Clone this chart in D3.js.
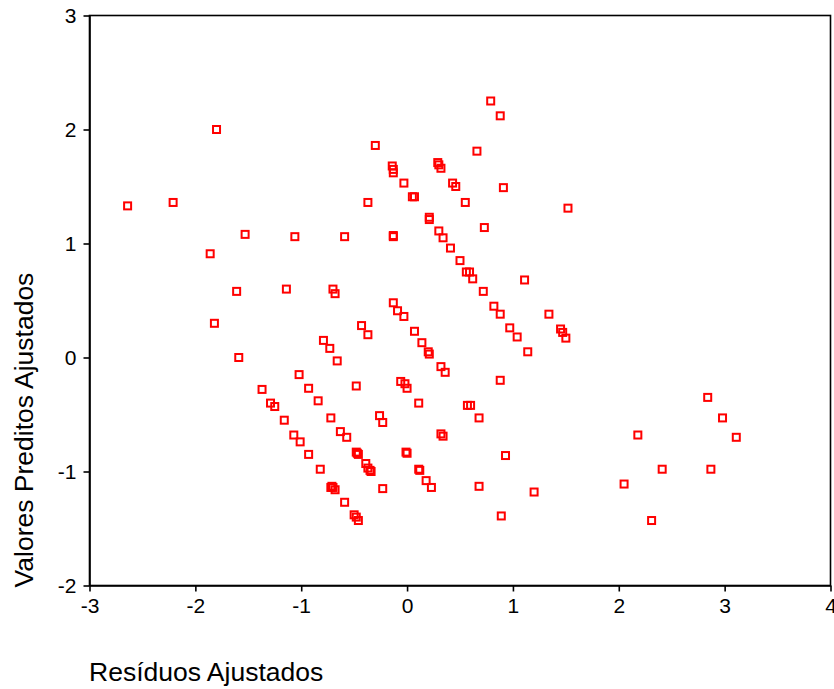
<!DOCTYPE html>
<html>
<head>
<meta charset="utf-8">
<script src="https://cdn.jsdelivr.net/npm/d3@7"></script>
<style>
  body { margin: 0; background: #fff; }
  text { font-family: "Liberation Sans", Arial, sans-serif; }
</style>
</head>
<body>
<script>
// residuos ajustados (x) vs valores preditos ajustados (y)
const resX = [
  -2.64, -2.21, -1.80, -1.53, -1.06, -1.86, -1.61, -1.14, -0.70, -0.68,
  -1.82, -0.79, -0.73, -0.66, -1.59, -1.02, -0.93, -1.37, -1.29, -1.25,
  -0.84, -0.72, -1.16, -1.07, -1.01, -0.93, -0.82, -0.72, -0.70, -0.68,
  -0.71, -0.63, -0.57, -0.59, -0.50, -0.48, -0.46, -0.48, -0.46, -0.47,
  -0.39, -0.37, -0.35, -0.34, -0.23, -0.26, -0.23, -0.48, -0.43, -0.37,
  -0.13, -0.09, -0.03, 0.07, 0.14, 0.20, 0.21, -0.06, -0.02, 0.00,
  0.11, -0.01, 0.00, 0.11, 0.12, 0.18, 0.23, 0.32, 0.36, 0.32,
  0.34, 0.57, 0.60, 0.68, 0.88, 0.93, 0.68, 0.89, 1.20,
  0.79, 0.88, -0.30, 0.66, -0.14, -0.13, -0.13, 0.29, 0.30, 0.32,
  -0.03, 0.43, 0.46, 0.91, 0.05, 0.07, -0.37, 0.55, 1.52, 0.21,
  0.21, 0.73, -0.59, -0.13, -0.13, 0.30, 0.34, 0.41, 0.50, 0.56,
  0.59, 0.62, 1.11, 0.72, 0.82, 0.88, 0.97, 1.04, 1.34, 1.45,
  1.47, 1.50, 1.14,
  2.84, 2.98, 2.18, 3.11, 2.41, 2.87, 2.05, 2.31
];
const predY = [
  1.33, 1.36, 2.00, 1.08, 1.06, 0.91, 0.58, 0.60, 0.60, 0.56,
  0.30, 0.15, 0.08, -0.03, 0.00, -0.15, -0.27, -0.28, -0.40, -0.43,
  -0.38, -0.53, -0.55, -0.68, -0.74, -0.85, -0.98, -1.14, -1.14, -1.16,
  -1.13, -0.65, -0.70, -1.27, -1.38, -1.40, -1.43, -0.83, -0.85, -0.84,
  -0.93, -0.97, -0.99, -1.00, -1.15, -0.51, -0.57, -0.25, 0.28, 0.20,
  0.48, 0.41, 0.36, 0.23, 0.13, 0.05, 0.03, -0.21, -0.23, -0.27,
  -0.40, -0.83, -0.84, -0.98, -0.99, -1.08, -1.14, -0.08, -0.13, -0.67,
  -0.69, -0.42, -0.42, -0.53, -0.20, -0.86, -1.13, -1.39, -1.18,
  2.25, 2.12, 1.86, 1.81, 1.68, 1.65, 1.62, 1.71, 1.69, 1.66,
  1.53, 1.53, 1.50, 1.49, 1.41, 1.41, 1.36, 1.36, 1.31, 1.23,
  1.21, 1.14, 1.06, 1.07, 1.06, 1.11, 1.05, 0.96, 0.85, 0.75,
  0.75, 0.69, 0.68, 0.58, 0.45, 0.38, 0.26, 0.18, 0.38, 0.25,
  0.22, 0.17, 0.05,
  -0.35, -0.53, -0.68, -0.70, -0.98, -0.98, -1.11, -1.43
];
const xTicks = [-3, -2, -1, 0, 1, 2, 3, 4];
const yTicks = [-2, -1, 0, 1, 2, 3];

const w = 834, h = 689;
const plotLeft = 89.5, plotRight = 830.5, plotTop = 15.5, plotBottom = 585.5;

const svg = d3.select("body").append("svg")
  .attr("width", w)
  .attr("height", h);

const x = d3.scaleLinear().domain([-3, 4]).range([plotLeft, plotRight]);
const y = d3.scaleLinear().domain([-2, 3]).range([plotBottom, plotTop]);

// box round the plot
svg.append("rect")
  .attr("x", plotLeft).attr("y", plotTop)
  .attr("width", plotRight - plotLeft).attr("height", plotBottom - plotTop)
  .attr("fill", "none")
  .attr("stroke", "#000")
  .attr("stroke-width", 1.6);

// plain hyphen for negatives, no decimals
const fmt = function (d) { return String(d); };

const xAxis = svg.append("g")
  .attr("transform", "translate(0," + plotBottom + ")")
  .call(d3.axisBottom(x).tickValues(xTicks).tickFormat(fmt).tickSize(6).tickSizeOuter(0));
const yAxis = svg.append("g")
  .attr("transform", "translate(" + plotLeft + ",0)")
  .call(d3.axisLeft(y).tickValues(yTicks).tickFormat(fmt).tickSize(6).tickSizeOuter(0));

[xAxis, yAxis].forEach(function (g) {
  g.select(".domain").attr("stroke", "#000").attr("stroke-width", 1.6);
  g.selectAll(".tick line").attr("stroke", "#000").attr("stroke-width", 1.6);
  g.selectAll(".tick text")
    .attr("fill", "#000")
    .style("font-size", "21px")
    .style("font-family", "'Liberation Sans', Arial, sans-serif");
});
xAxis.selectAll(".tick text").attr("dy", "0.95em").attr("y", 8);
yAxis.selectAll(".tick text").attr("x", -13);

const points = resX.map(function (d, i) { return { x: d, y: predY[i] }; });
const s = 7;

svg.append("g")
  .selectAll("rect")
  .data(points)
  .enter()
  .append("rect")
  .attr("x", function (d) { return x(d.x) - s / 2; })
  .attr("y", function (d) { return y(d.y) - s / 2; })
  .attr("width", s)
  .attr("height", s)
  .attr("fill", "none")
  .attr("stroke", "#ff0000")
  .attr("stroke-width", 2);

svg.append("text")
  .attr("x", 89)
  .attr("y", 681)
  .style("font-size", "26.5px")
  .attr("fill", "#000")
  .text("Resíduos Ajustados");

svg.append("text")
  .attr("transform", "translate(33,430) rotate(-90)")
  .attr("text-anchor", "middle")
  .style("font-size", "26.5px")
  .attr("fill", "#000")
  .text("Valores Preditos Ajustados");
</script>
</body>
</html>
